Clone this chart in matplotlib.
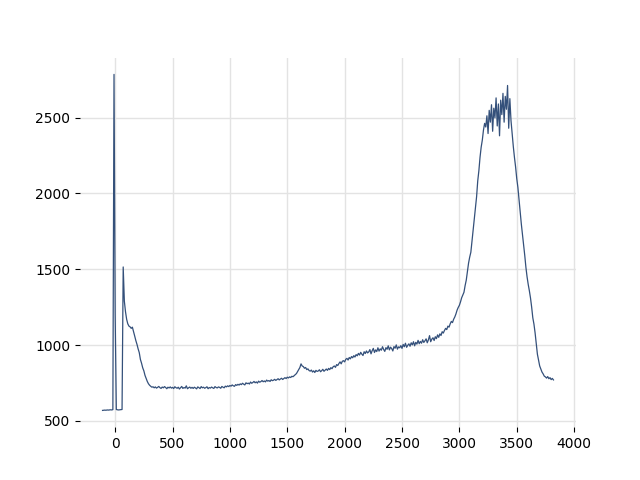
import numpy as np
import matplotlib
matplotlib.use('Agg')
import matplotlib.pyplot as plt

# x positions, every 10 units
x = np.arange(-110, 3821, 10)

# values, one row per 100 units
y = [
    569, 570, 571, 570, 572, 571, 572, 573, 572, 574,
    2785, 1200, 575, 573, 572, 573, 574, 575, 1515, 1290,
    1220, 1170, 1140, 1125, 1120, 1110, 1118, 1090, 1060, 1030,
    1005, 975, 950, 905, 880, 850, 830, 800, 780, 760,
    745, 735, 728, 722, 725, 718, 724, 716, 721, 727,
    719, 714, 723, 718, 726, 720, 712, 722, 717, 724,
    716, 721, 713, 725, 719, 715, 722, 710, 719, 727,
    714, 720, 716, 731, 712, 718, 723, 715, 721, 714,
    722, 717, 711, 724, 719, 713, 726, 718, 722, 715,
    719, 725, 712, 720, 716, 723, 718, 714, 726, 720,
    717, 724, 721, 715, 727, 722, 718, 729, 724, 731,
    726, 733, 729, 737, 731, 728, 739, 734, 741, 736,
    744, 739, 748, 742, 737, 751, 745, 749, 743, 756,
    748, 753, 760, 751, 757, 749, 762, 755, 759, 766,
    758, 763, 757, 769, 762, 766, 760, 771, 765, 768,
    774, 767, 772, 778, 770, 776, 781, 773, 779, 785,
    779, 788, 783, 790, 786, 794, 791, 798, 805, 812,
    825, 838, 852, 876, 862, 858, 847, 852, 838, 843,
    832, 828, 835, 822, 830, 819, 833, 826, 829, 837,
    824, 831, 840, 827, 835, 842, 833, 846, 838, 851,
    844, 857, 862, 853, 871, 865, 878, 889, 876, 893,
    897, 889, 906, 912, 901, 918, 909, 924, 916, 930,
    921, 937, 929, 945, 934, 952, 940, 931, 956, 944,
    961, 948, 955, 970, 942, 963, 978, 951, 968, 957,
    982, 960, 975, 966, 989, 971, 958, 983, 972, 995,
    968, 986, 977, 961, 990, 979, 1001, 973, 988, 982,
    996, 978, 1004, 989, 1012, 985, 998, 1008, 992, 1015,
    1001, 1022, 995, 1018, 1006, 1031, 1009, 1024, 1012, 1035,
    1017, 1028, 1041, 1015, 1034, 1062, 1022, 1039, 1048, 1030,
    1055, 1042, 1067, 1051, 1074, 1063, 1088, 1079, 1096, 1110,
    1102, 1125, 1118, 1140, 1156, 1148, 1170, 1185, 1205, 1230,
    1248, 1262, 1285, 1312, 1330, 1348, 1392, 1428, 1482, 1540,
    1580, 1612, 1685, 1758, 1830, 1905, 1978, 2082, 2150, 2238,
    2305, 2352, 2418, 2462, 2438, 2512, 2395, 2548, 2470, 2585,
    2410, 2562, 2498, 2630, 2445, 2590, 2380, 2615, 2520, 2660,
    2470, 2640, 2555, 2712, 2430, 2625, 2480, 2395, 2310, 2238,
    2175, 2098, 2040, 1960, 1885, 1798, 1730, 1660, 1590, 1512,
    1450, 1400, 1358, 1310, 1250, 1180, 1138, 1080, 1010, 940,
    900, 862, 841, 822, 810, 795, 790, 782, 792, 778,
    785, 772, 780, 770,
]

xticks = [0, 500, 1000, 1500, 2000, 2500, 3000, 3500, 4000]
yticks = [500, 1000, 1500, 2000, 2500]

fig, ax = plt.subplots(figsize=(6.4, 4.8), dpi=100)
ax.plot(x, y, color='#34507a', linewidth=0.9)

ax.set_xticks(xticks)
ax.set_yticks(yticks)
ax.grid(True, color='#e3e3e3', linewidth=1)
ax.set_axisbelow(True)
for s in ax.spines.values():
    s.set_visible(False)

fig.savefig('out.png', dpi=100)
